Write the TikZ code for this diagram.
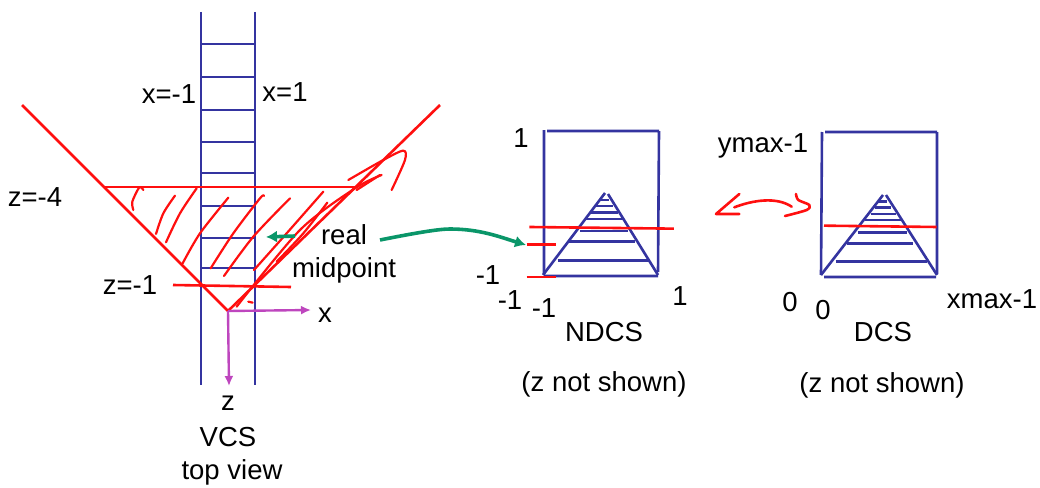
\documentclass[tikz,border=0pt]{standalone}
\usepackage{fontspec}
\setmainfont{Liberation Sans}
\usetikzlibrary{arrows.meta}
\definecolor{bl}{RGB}{52,52,160}
\definecolor{rd}{RGB}{255,15,15}
\definecolor{gr}{RGB}{10,150,105}
\definecolor{pu}{RGB}{190,70,190}
\tikzset{
 bline/.style={draw=bl,line width=2.6pt},
 rline/.style={draw=rd,line width=2.6pt},
 hatch/.style={draw=rd,line width=2.2pt,line cap=round,line join=round},
 lab/.style={font=\fontsize{27.5}{30}\selectfont,text=black,inner sep=0pt,anchor=center},
 parrow/.style={draw=pu,line width=2.4pt,-{Latex[length=10pt,width=9pt]}},
 garrow/.style={draw=gr,line width=3.6pt,-{Latex[length=11pt,width=12pt]}},
}
\begin{document}
\begin{tikzpicture}[x=1pt,y=-1pt]
\useasboundingbox (0,0) rectangle (1040,487);
% ladder
\draw[bline] (201,12)--(201,385) (255,12)--(255,385);
\foreach \y in {44,77,110,142,173,206,238,268}{\draw[bline] (201,\y)--(255,\y);}
% frustum
\draw[rline] (22,105)--(228,311)--(440,105);
\draw[rline] (105,187)--(355,187);
\draw[rline] (173,285)--(291,287);
% hatching
\begin{scope}[shift={(100,130)},x=0.3333pt,y=-0.3333pt]
\draw[hatch] plot[smooth] coordinates {(100,240)(97,215)(118,172)(130,180)};
\draw[hatch] plot[smooth] coordinates {(168,312)(190,250)(225,197)};
\draw[hatch] plot[smooth] coordinates {(198,337)(240,250)(290,175)};
\draw[hatch] plot[smooth] coordinates {(248,400)(300,310)(385,203)};
\draw[hatch] plot[smooth] coordinates {(332,415)(400,310)(480,205)(492,198)};
\draw[hatch] plot[smooth] coordinates {(372,438)(460,320)(570,205)};
\draw[hatch] plot[smooth] coordinates {(462,420)(560,310)(670,185)};
\draw[hatch] plot[smooth] coordinates {(530,395)(610,310)(682,218)};
\draw[hatch] plot[smooth] coordinates {(410,530)(600,300)(765,175)(845,135)};
\draw[hatch] plot[smooth] coordinates {(745,150)(850,90)(910,62)(915,90)(875,180)};
\draw[hatch] (770,180)--(840,135);
\draw[hatch] (445,515)--(458,518);
\end{scope}
% axes
\coordinate (o) at (228,311);
\coordinate (xe) at (311,310);
\coordinate (ze) at (229,386);
\draw[parrow] (o)--(xe);
\draw[parrow] (o)--(ze);
% green
\coordinate (g1) at (295,236);
\coordinate (g2) at (266,237);
\draw[garrow] (g1)--(g2);
\coordinate (m1) at (380,240);
\coordinate (m2) at (526,245);
\draw[garrow] (m1) .. controls (420,232) and (440,229) .. (450,229) .. controls (480,229) and (500,237) .. (m2);
% NDCS
\draw[bline] (544,130)--(544,274) (547,131)--(659,131) (659,131)--(658,272) (544,276)--(658,276);
\draw[bline] (605,193)--(543,275) (608,194)--(658,275);
\begin{scope}[shift={(370,120)},x=0.3333pt,y=-0.3333pt]
\foreach \y/\a/\b in {240/693/718,258/677/728,278/663/745,297/645/760,333/630/775,365/597/795,421/563/838}{\draw[bline] (\a,\y)--(\b,\y);}
\draw[rline] (478,321)--(912,326);
\draw[rline] (470,373)--(557,373);
\draw[rline] (470,471)--(557,471);
\end{scope}
% DCS
\draw[bline] (822,132)--(821,275) (825,132)--(937,132) (937,132)--(937,274) (824,277)--(936,277);
\draw[bline] (883,195)--(821,275) (886,195)--(937,275);
\begin{scope}[shift={(700,120)},x=0.3333pt,y=-0.3333pt]
\foreach \y/\a/\b in {245/535/560,262/525/572,282/513/588,300/495/605,337/473/620,370/440/640,425/407/680}{\draw[bline] (\a,\y)--(\b,\y);}
\draw[rline] (372,317)--(710,321);
\draw[hatch,line width=2.6pt] (118,222)--(48,282)--(118,282);
\draw[hatch,line width=2.6pt] (103,262) .. controls (160,240) and (230,230) .. (275,260);
\draw[hatch,line width=2.6pt] plot[smooth] coordinates {(288,222)(295,240)(328,255)(320,270)(255,288)};
\end{scope}
% labels
\node[lab] (t1) at (169,94) {x=-1};
\node[lab] (t2) at (285,92) {x=1};
\node[lab] (t3) at (35,197) {z=-4};
\node[lab] (t4) at (130,285) {z=-1};
\node[lab] (t5) at (344,235) {real};
\node[lab] (t6) at (344,270) {midpoint};
\node[lab] (t7) at (325,315) {x};
\node[lab] (t8) at (228,403) {z};
\node[lab] (t9) at (228,437) {VCS};
\node[lab] (t10) at (232,472) {top view};
\node[lab] (t11) at (521,138) {1};
\node[lab] (t12) at (488,275) {-1};
\node[lab] (t13) at (510,300) {-1};
\node[lab] (t14) at (544,308) {-1};
\node[lab] (t15) at (680,296) {1};
\node[lab] (t16) at (604,332) {NDCS};
\node[lab] (t17) at (604,384) {(z not shown)};
\node[lab] (t18) at (763,146) {ymax-1};
\node[lab] (t19) at (790,302) {0};
\node[lab] (t20) at (823,310) {0};
\node[lab] (t21) at (992,299) {xmax-1};
\node[lab] (t22) at (883,332) {DCS};
\node[lab] (t23) at (882,385) {(z not shown)};
\end{tikzpicture}
\end{document}
